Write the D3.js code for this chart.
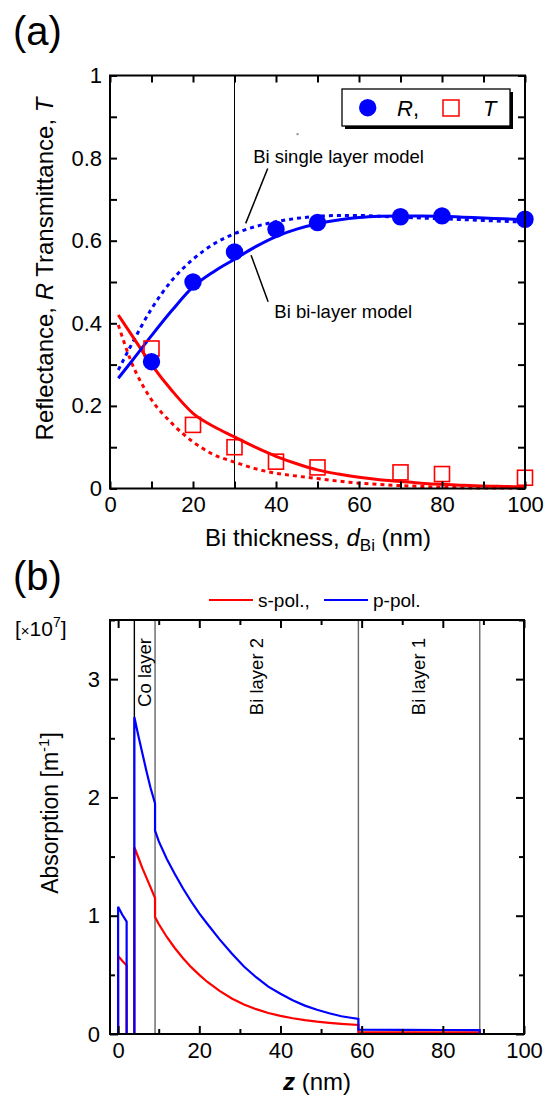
<!DOCTYPE html>
<html><head><meta charset="utf-8">
<script src="https://cdn.jsdelivr.net/npm/d3@7"></script>
<style>
body{margin:0;background:#fff}
svg{display:block}
text{font-family:"Liberation Sans",Arial,sans-serif;fill:#000}
</style>
</head><body>
<svg id="c" width="558" height="1099"></svg>
<script>
// ---------- Panel (a) data ----------
const thickness   = [10, 20, 30, 40, 50, 70, 80, 100];
const reflMeas    = [0.307, 0.500, 0.573, 0.628, 0.644, 0.658, 0.660, 0.652];
const transMeas   = [0.339, 0.154, 0.100, 0.065, 0.051, 0.039, 0.035, 0.026];
const dFit        = [2, 5, 10, 15, 20, 25, 30, 35, 40, 45, 50, 55, 60, 65, 70, 75, 80, 85, 90, 95, 100];
const reflBiLayer = [0.267, 0.305, 0.37, 0.432, 0.488, 0.525, 0.555, 0.585, 0.61, 0.628, 0.641, 0.65, 0.656, 0.659, 0.66, 0.66, 0.659, 0.657, 0.655, 0.653, 0.651];
const reflSingle  = [0.287, 0.345, 0.435, 0.505, 0.555, 0.592, 0.617, 0.634, 0.646, 0.654, 0.659, 0.661, 0.661, 0.659, 0.657, 0.655, 0.653, 0.651, 0.649, 0.647, 0.645];
const transBiLayer= [0.42, 0.375, 0.30, 0.236, 0.182, 0.15, 0.125, 0.10, 0.078, 0.06, 0.045, 0.035, 0.027, 0.021, 0.017, 0.013, 0.010, 0.008, 0.006, 0.005, 0.004];
const transSingle = [0.396, 0.31, 0.215, 0.157, 0.113, 0.082, 0.064, 0.048, 0.037, 0.030, 0.024, 0.018, 0.013, 0.010, 0.007, 0.005, 0.003, 0.002, 0.001, 0.001, 0.0];
const xTicksA = [0, 20, 40, 60, 80, 100];
const yTicksA = [0, 0.2, 0.4, 0.6, 0.8, 1];

// ---------- Panel (b) data ----------
const zPos = [-2, 0, 0, 1, 2.1, 2.1, 4, 4, 5, 6, 7, 8, 9.1, 9.1, 10, 12, 14, 16, 18, 20, 22, 25, 28, 31, 34, 37, 40, 43, 46, 49, 52, 55, 59.2, 59.2, 70, 80, 89.1, 89.1, 100];
const absS = [0, 0, 0.66, 0.62, 0.58, 0, 0, 1.58, 1.49, 1.40, 1.32, 1.24, 1.15, 0.99, 0.93, 0.82, 0.725, 0.64, 0.565, 0.5, 0.44, 0.365, 0.30, 0.25, 0.21, 0.178, 0.153, 0.133, 0.117, 0.104, 0.094, 0.086, 0.076, 0.015, 0.014, 0.013, 0.013, 0, 0];
const absP = [0, 0, 1.076, 1.01, 0.95, 0, 0, 2.68, 2.52, 2.37, 2.22, 2.08, 1.95, 1.72, 1.63, 1.48, 1.35, 1.23, 1.12, 1.02, 0.93, 0.80, 0.68, 0.57, 0.48, 0.40, 0.34, 0.285, 0.24, 0.205, 0.175, 0.15, 0.127, 0.036, 0.035, 0.034, 0.033, 0, 0];
const layerBounds = [4, 9.1, 59.2, 89.1];
const layerNames  = ["Co layer", "Bi layer 2", "Bi layer 1"];
const xTicksB = [0, 20, 40, 60, 80, 100];
const yTicksB = [0, 1, 2, 3];

const BLUE = "#0000ff", RED = "#ff0000";
const svg = d3.select("#c");

function frameAxes(g, x, y, opt) {
  const W = x.range()[1] - x.range()[0];
  const H = y.range()[0] - y.range()[1];
  const fsz = 22;
  const styleAxis = a => {
    a.select(".domain").remove();
    a.selectAll(".tick line").attr("stroke", "#000").attr("stroke-width", 2);
    a.selectAll("text").style("font-size", fsz + "px").style("font-family", '"Liberation Sans",Arial,sans-serif');
  };
  const minorLen = opt.minorLen, majorLen = opt.majorLen;
  const isLab = (arr, d) => arr.some(v => Math.abs(v - d) < 1e-9);
  const bx = g.append("g").attr("transform", `translate(0,${y.range()[0]})`)
    .call(d3.axisBottom(x).tickValues(opt.xAll).tickSizeInner(-majorLen).tickSizeOuter(0).tickPadding(8)
      .tickFormat(d => isLab(opt.xLab, d) ? d3.format("~g")(d) : ""));
  styleAxis(bx);
  bx.selectAll(".tick").filter(d => !isLab(opt.xLab, d)).select("line").attr("y2", -minorLen);
  const tx = g.append("g").attr("transform", `translate(0,${y.range()[1]})`)
    .call(d3.axisTop(x).tickValues(opt.xAll).tickSizeInner(-majorLen).tickSizeOuter(0).tickFormat(""));
  styleAxis(tx);
  tx.selectAll(".tick").filter(d => !isLab(opt.xLab, d)).select("line").attr("y2", minorLen);
  const ly = g.append("g").attr("transform", `translate(${x.range()[0]},0)`)
    .call(d3.axisLeft(y).tickValues(opt.yAll).tickSizeInner(-majorLen).tickSizeOuter(0).tickPadding(opt.yPad)
      .tickFormat(d => isLab(opt.yLab, d) ? d3.format("~g")(d) : ""));
  styleAxis(ly);
  ly.selectAll(".tick").filter(d => !isLab(opt.yLab, d)).select("line").attr("x2", minorLen);
  const ry = g.append("g").attr("transform", `translate(${x.range()[1]},0)`)
    .call(d3.axisRight(y).tickValues(opt.yAll).tickSizeInner(-majorLen).tickSizeOuter(0).tickFormat(""));
  styleAxis(ry);
  ry.selectAll(".tick").filter(d => !isLab(opt.yLab, d)).select("line").attr("x2", -minorLen);
  g.append("rect").attr("x", x.range()[0]).attr("y", y.range()[1]).attr("width", W).attr("height", H)
    .attr("fill", "none").attr("stroke", "#000").attr("stroke-width", 2);
}

// ================= Panel (a) =================
{
  const x = d3.scaleLinear([0, 100], [110, 525]);
  const y = d3.scaleLinear([0, 1], [488.5, 75.5]);
  const g = svg.append("g");

  svg.append("text").attr("x", 13).attr("y", 45).style("font-size", "40px").text("(a)");

  g.append("line").attr("x1", x(30)).attr("x2", x(30)).attr("y1", y(1)).attr("y2", y(0))
    .attr("stroke", "#000").attr("stroke-width", 1);

  const line = d3.line().x((d, i) => x(dFit[i])).y(d => y(d)).curve(d3.curveMonotoneX);
  const curves = [
    {v: transSingle, c: RED, dash: "4,4"},
    {v: reflSingle, c: BLUE, dash: "4,4"},
    {v: transBiLayer, c: RED, dash: null},
    {v: reflBiLayer, c: BLUE, dash: null}
  ];
  curves.forEach(cv => {
    g.append("path").attr("d", line(cv.v)).attr("fill", "none").attr("stroke", cv.c)
      .attr("stroke-width", 3).attr("stroke-dasharray", cv.dash);
  });

  g.selectAll("rect.t").data(thickness).enter().append("rect").attr("class", "t")
    .attr("x", (d) => x(d) - 7.5).attr("y", (d, i) => y(transMeas[i]) - 7.5)
    .attr("width", 15).attr("height", 15).attr("fill", "none").attr("stroke", RED).attr("stroke-width", 1.6);
  g.selectAll("circle.r").data(thickness).enter().append("circle").attr("class", "r")
    .attr("cx", d => x(d)).attr("cy", (d, i) => y(reflMeas[i])).attr("r", 8.7).attr("fill", BLUE);

  frameAxes(g, x, y, {xAll: d3.range(0, 101, 10), xLab: xTicksA, yAll: d3.range(0, 11).map(k => k / 10), yLab: yTicksA,
    majorLen: 7, minorLen: 7, yPad: 8});

  g.append("text").attr("x", x(34.5)).attr("y", y(0.787)).style("font-size", "18.5px").text("Bi single layer model");
  g.append("line").attr("x1", x(38.0)).attr("y1", y(0.775)).attr("x2", x(32.7)).attr("y2", y(0.642))
    .attr("stroke", "#000").attr("stroke-width", 1.5);
  g.append("text").attr("x", x(39.6)).attr("y", y(0.413)).style("font-size", "18.5px").text("Bi bi-layer model");
  g.append("line").attr("x1", x(34.0)).attr("y1", y(0.565)).attr("x2", x(38.1)).attr("y2", y(0.452))
    .attr("stroke", "#000").attr("stroke-width", 1.5);
  g.append("rect").attr("x", x(45.2) - 1).attr("y", y(0.858) - 1).attr("width", 2).attr("height", 2).attr("fill", "#888");

  const lg = g.append("g");
  lg.append("rect").attr("x", 345).attr("y", 92).attr("width", 168).attr("height", 37).attr("fill", "#000");
  lg.append("rect").attr("x", 342).attr("y", 89).attr("width", 168).attr("height", 37).attr("fill", "#fff").attr("stroke", "#000").attr("stroke-width", 1.3);
  lg.append("circle").attr("cx", 367.7).attr("cy", 107.7).attr("r", 8.7).attr("fill", BLUE);
  lg.append("text").attr("x", 397).attr("y", 115.5).style("font-size", "22px")
    .call(t => { t.append("tspan").style("font-style", "italic").text("R"); t.append("tspan").text(","); });
  lg.append("rect").attr("x", 443).attr("y", 100).attr("width", 16).attr("height", 16).attr("fill", "none").attr("stroke", RED).attr("stroke-width", 1.5);
  lg.append("text").attr("x", 483).attr("y", 115.5).style("font-size", "22px").style("font-style", "italic").text("T");

  svg.append("text").attr("x", 318).attr("y", 546).attr("text-anchor", "middle").style("font-size", "24px")
    .call(t => {
      t.append("tspan").text("Bi thickness, ");
      t.append("tspan").style("font-style", "italic").text("d");
      t.append("tspan").attr("dy", 5).style("font-size", "17px").text("Bi");
      t.append("tspan").attr("dy", -5).text(" (nm)");
    });
  svg.append("text").attr("transform", "translate(53,269) rotate(-90)").attr("text-anchor", "middle").style("font-size", "24px")
    .call(t => {
      t.append("tspan").text("Reflectance, ");
      t.append("tspan").style("font-style", "italic").text("R");
      t.append("tspan").text("  Transmittance, ");
      t.append("tspan").style("font-style", "italic").text("T");
    });
}

// ================= Panel (b) =================
{
  const x = d3.scaleLinear([-2, 100], [110, 524]);
  const y = d3.scaleLinear([0, 3.5], [1034, 620]);
  const g = svg.append("g");

  svg.append("text").attr("x", 13).attr("y", 590).style("font-size", "40px").text("(b)");

  g.selectAll("line.lb").data(layerBounds).enter().append("line").attr("class", "lb")
    .attr("x1", d => x(d)).attr("x2", d => x(d)).attr("y1", y(3.5)).attr("y2", y(0))
    .attr("stroke", (d, i) => i === 0 ? "#000" : "#666").attr("stroke-width", 1.4);

  g.selectAll("text.ln").data(layerNames).enter().append("text").attr("class", "ln")
    .attr("transform", (d, i) => `translate(${x((layerBounds[i] + layerBounds[i + 1]) / 2) + 6},638) rotate(-90)`)
    .attr("text-anchor", "end").style("font-size", "18.5px").text(d => d);

  const line = d3.line().x((d, i) => x(zPos[i])).y(d => y(d));
  g.append("path").attr("d", line(absS)).attr("fill", "none").attr("stroke", RED).attr("stroke-width", 2.2);
  g.append("path").attr("d", line(absP)).attr("fill", "none").attr("stroke", BLUE).attr("stroke-width", 2.2);

  frameAxes(g, x, y, {xAll: d3.range(0, 101, 10), xLab: xTicksB, yAll: d3.range(0, 8).map(k => k / 2), yLab: yTicksB,
    majorLen: 8, minorLen: 5, yPad: 10});

  const lg = svg.append("g");
  lg.append("line").attr("x1", 209).attr("x2", 253).attr("y1", 600).attr("y2", 600).attr("stroke", RED).attr("stroke-width", 2);
  lg.append("text").attr("x", 258).attr("y", 607).style("font-size", "19px").text("s-pol.,");
  lg.append("line").attr("x1", 324).attr("x2", 368).attr("y1", 600).attr("y2", 600).attr("stroke", BLUE).attr("stroke-width", 2);
  lg.append("text").attr("x", 373).attr("y", 607).style("font-size", "19px").text("p-pol.");

  svg.append("text").attr("x", 15).attr("y", 636).style("font-size", "21px")
    .call(t => {
      t.append("tspan").text("[");
      t.append("tspan").style("font-size", "15px").text("×");
      t.append("tspan").text("10");
      t.append("tspan").attr("dy", -9).style("font-size", "14px").text("7");
      t.append("tspan").attr("dy", 9).text("]");
    });

  svg.append("text").attr("x", 317).attr("y", 1090).attr("text-anchor", "middle").style("font-size", "24px")
    .call(t => {
      t.append("tspan").style("font-style", "italic").style("font-weight", "bold").text("z");
      t.append("tspan").text(" (nm)");
    });
  svg.append("text").attr("transform", "translate(58,813) rotate(-90)").attr("text-anchor", "middle").style("font-size", "23px")
    .call(t => {
      t.append("tspan").text("Absorption [m");
      t.append("tspan").attr("dy", -9).style("font-size", "15px").text("-1");
      t.append("tspan").attr("dy", 9).text("]");
    });
}
</script>
</body></html>
